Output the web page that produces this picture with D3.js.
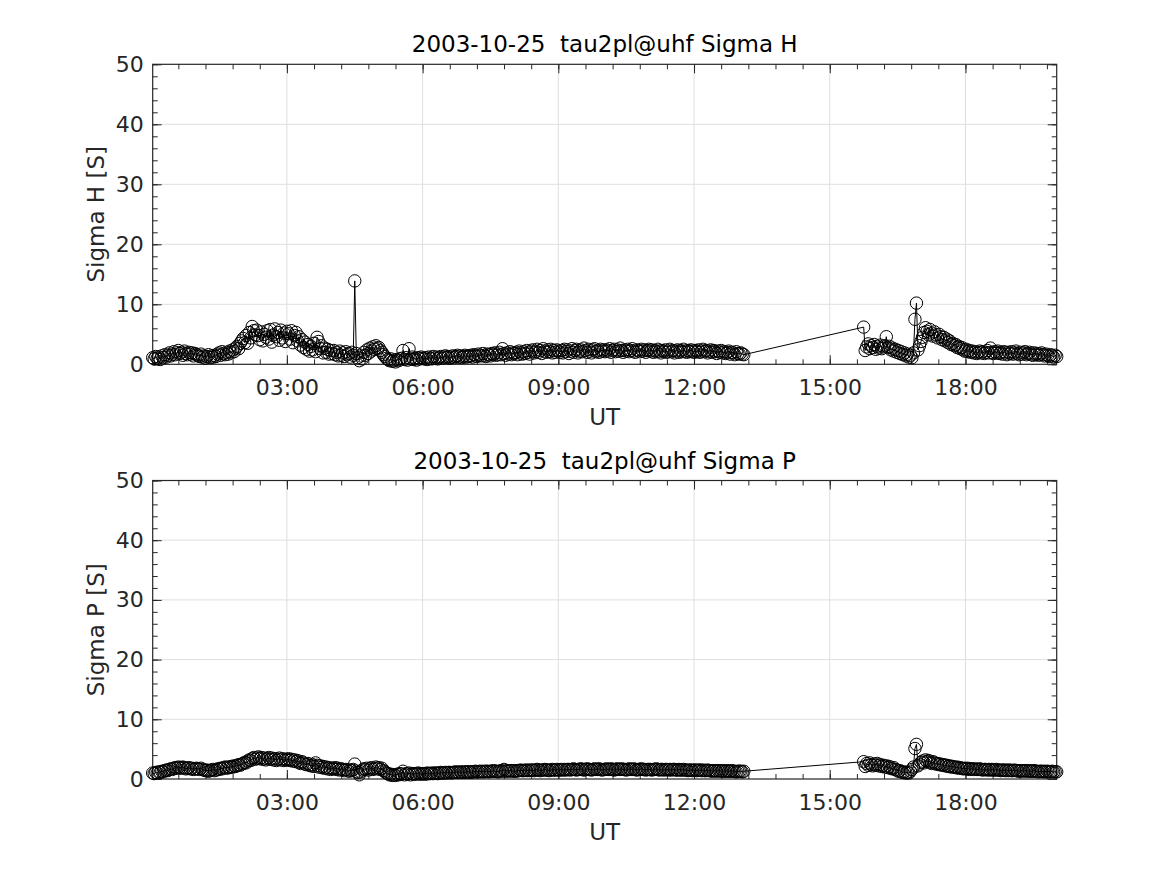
<!DOCTYPE html>
<html>
<head>
<meta charset="utf-8">
<script src="https://cdn.jsdelivr.net/npm/d3@7"></script>
<style>
  body { margin: 0; background: #fff; }
  svg text { font-family: "DejaVu Sans", sans-serif; white-space: pre; }
</style>
</head>
<body>
<div id="chart"></div>
<script>
// sample times: two runs with 2 minute steps
const day = "2003-10-25";
const stepMinutes = 2;
const runStarts = ["00:02", "15:45"];
const xLimits = ["00:02", "20:01"];

// Sigma H, first run (one row per hour: hh:02 .. hh+1:00)
const sigmaH1 = [
  1.1, 0.9, 1.3, 1.0, 1.2, 0.8, 1.4, 1.1, 1.6, 1.2, 1.5, 1.9, 1.4, 1.7, 2.1, 1.6, 1.9, 2.3, 1.8, 2.0, 1.5, 2.2, 1.8, 1.6, 2.0, 1.7, 1.9, 1.4, 1.8, 1.6,
  1.5, 1.3, 1.7, 1.2, 1.4, 1.0, 1.3, 1.6, 1.1, 1.4, 1.2, 1.5, 1.3, 1.7, 1.9, 1.5, 2.1, 1.8, 1.6, 2.0, 1.7, 2.2, 1.9, 2.4, 2.1, 2.7, 3.0, 2.6, 3.5, 3.9,
  4.3, 3.6, 4.8, 3.5, 5.3, 4.4, 6.3, 5.6, 4.9, 5.7, 4.8, 4.1, 5.4, 3.9, 5.0, 4.5, 5.6, 4.2, 5.8, 3.7, 4.9, 5.9, 4.6, 5.3, 4.0, 5.7, 4.4, 5.2, 3.8, 5.5,
  5.1, 4.2, 5.6, 3.6, 4.8, 5.3, 3.9, 4.6, 3.2, 4.1, 2.8, 3.7, 2.5, 3.3, 2.2, 3.0, 2.4, 3.5, 2.1, 4.5, 3.8, 2.6, 3.1, 1.9, 2.7, 2.0, 2.5, 1.7, 2.3, 1.8,
  2.3, 1.6, 2.0, 1.4, 2.2, 1.5, 1.9, 1.3, 2.1, 1.6, 1.8, 1.2, 2.0, 1.5, 13.9, 1.8, 1.1, 0.6, 1.4, 0.9, 2.0, 1.5, 2.4, 1.8, 2.7, 2.2, 2.9, 2.5, 3.1, 2.6,
  2.8, 2.3, 2.0, 1.6, 1.3, 1.0, 0.8, 0.6, 0.9, 0.5, 0.7, 0.4, 0.8, 0.6, 0.9, 1.0, 2.3, 0.8, 1.1, 0.7, 2.6, 0.9, 1.2, 0.8, 1.0, 0.7, 1.1, 0.9, 1.2, 1.0,
  0.9, 1.1, 0.8, 1.2, 1.0, 0.9, 1.3, 1.0, 1.2, 0.9, 1.1, 1.3, 1.0, 1.2, 1.4, 1.1, 1.3, 1.0, 1.2, 1.4, 1.1, 1.3, 1.5, 1.2, 1.4, 1.1, 1.3, 1.5, 1.2, 1.4,
  1.3, 1.5, 1.2, 1.6, 1.4, 1.3, 1.7, 1.5, 1.4, 1.8, 1.5, 1.3, 1.7, 1.6, 1.4, 1.8, 1.6, 1.9, 1.5, 1.7, 2.0, 1.6, 2.6, 1.8, 1.5, 1.9, 1.7, 2.1, 1.6, 1.9,
  1.8, 2.0, 1.6, 2.2, 1.9, 1.7, 2.1, 1.8, 2.3, 2.0, 1.7, 2.2, 2.4, 1.9, 2.1, 2.5, 2.0, 2.3, 1.8, 2.6, 2.2, 2.0, 2.4, 2.1, 2.5, 1.9, 2.3, 2.0, 2.4, 2.2,
  2.0, 2.3, 1.9, 2.5, 2.1, 2.4, 1.8, 2.2, 2.6, 2.0, 2.3, 2.5, 1.9, 2.2, 2.4, 2.1, 2.7, 2.3, 2.0, 2.5, 2.2, 1.9, 2.4, 2.6, 2.1, 2.3, 2.0, 2.5, 2.2, 2.4,
  2.1, 2.4, 2.2, 2.6, 2.0, 2.3, 2.5, 2.1, 2.4, 2.2, 2.7, 2.3, 2.0, 2.4, 2.2, 2.5, 2.1, 2.3, 2.6, 2.2, 2.0, 2.4, 2.3, 2.1, 2.5, 2.2, 2.4, 2.0, 2.3, 2.5,
  2.2, 2.4, 2.0, 2.3, 2.1, 2.5, 2.2, 1.9, 2.3, 2.1, 2.4, 2.0, 2.2, 2.5, 2.1, 2.3, 1.9, 2.2, 2.4, 2.0, 2.3, 2.1, 2.5, 2.2, 2.0, 2.3, 2.1, 2.4, 2.2, 2.0,
  2.3, 2.1, 2.4, 2.0, 2.2, 2.5, 2.1, 2.3, 1.9, 2.2, 2.4, 2.0, 2.3, 2.1, 1.8, 2.2, 2.0, 2.3, 1.9, 2.1, 1.8, 2.0, 2.2, 1.7, 2.0, 1.9, 1.6, 2.1, 1.8, 1.7,
  1.9, 1.7, 1.6,
];
// Sigma H, second run (rows: 15:45.., 16:45.., 17:45.., 18:45.., 19:45..)
const sigmaH2 = [
  6.2, 2.3, 2.9, 3.4, 2.6, 3.1, 2.8, 3.3, 2.5, 3.0, 2.7, 3.2, 2.6, 2.9, 3.1, 4.6, 2.8, 3.0, 2.4, 2.7, 2.2, 2.5, 2.0, 2.3, 1.8, 2.1, 1.6, 1.9, 1.4, 1.7,
  1.2, 1.5, 1.1, 1.9, 7.5, 10.2, 2.4, 3.1, 3.8, 4.5, 5.3, 6.1, 5.5, 4.9, 5.8, 5.2, 4.7, 5.4, 4.9, 4.4, 5.0, 4.6, 4.1, 4.5, 3.9, 4.2, 3.6, 3.9, 3.3, 3.5,
  3.1, 3.3, 2.8, 3.0, 2.6, 2.8, 2.4, 2.2, 2.5, 2.1, 2.3, 2.0, 2.2, 1.9, 2.1, 1.8, 2.0, 2.2, 1.9, 2.1, 1.8, 2.0, 2.3, 1.9, 2.7, 2.0, 1.8, 2.1, 1.9, 2.2,
  1.8, 2.0, 1.7, 2.1, 1.9, 1.6, 2.0, 1.8, 2.1, 1.7, 1.9, 2.2, 1.8, 1.6, 2.0, 1.7, 1.9, 2.1, 1.6, 1.8, 2.0, 1.7, 1.5, 1.9, 1.6, 1.8, 1.5, 1.7, 1.9, 1.6,
  1.4, 1.7, 1.5, 1.3, 1.6, 1.4, 1.2, 1.5, 1.3,
];

// Sigma P, same sample times
const sigmaP1 = [
  1.0, 0.9, 1.1, 1.0, 1.2, 1.1, 1.3, 1.2, 1.4, 1.5, 1.4, 1.6, 1.7, 1.6, 1.8, 1.9, 1.8, 2.0, 1.9, 1.8, 2.0, 1.9, 1.7, 1.8, 1.9, 1.7, 1.8, 1.6, 1.7, 1.8,
  1.7, 1.6, 1.8, 1.6, 1.5, 1.4, 1.5, 1.3, 1.4, 1.5, 1.6, 1.4, 1.5, 1.7, 1.6, 1.8, 1.7, 1.9, 2.0, 1.8, 2.0, 1.9, 2.1, 2.0, 2.2, 2.1, 2.3, 2.4, 2.3, 2.5,
  2.6, 2.8, 2.7, 3.0, 3.2, 3.1, 3.4, 3.6, 3.3, 3.5, 3.7, 3.4, 3.6, 3.3, 3.5, 3.2, 3.4, 3.6, 3.3, 3.5, 3.2, 3.4, 3.1, 3.3, 3.5, 3.2, 3.4, 3.1, 3.3, 3.2,
  3.4, 3.1, 3.3, 3.0, 3.2, 2.9, 3.1, 2.8, 2.6, 2.9, 2.7, 2.5, 2.4, 2.6, 2.3, 2.2, 2.4, 2.1, 2.7, 2.3, 2.0, 2.2, 1.9, 2.1, 1.8, 2.0, 1.7, 1.9, 1.6, 1.8,
  1.7, 1.9, 1.6, 1.8, 1.5, 1.7, 1.6, 1.4, 1.6, 1.5, 1.3, 1.5, 1.4, 1.6, 2.5, 1.3, 1.1, 0.7, 1.2, 1.5, 1.7, 1.6, 1.8, 1.5, 1.7, 1.9, 1.6, 1.8, 2.0, 1.7,
  1.9, 1.6, 1.8, 1.4, 1.2, 1.0, 0.9, 0.7, 0.8, 0.6, 0.7, 0.6, 0.8, 0.7, 0.9, 0.8, 1.3, 0.7, 0.9, 0.8, 1.0, 0.7, 0.9, 0.8, 0.9, 0.8, 1.0, 0.9, 0.8, 0.9,
  0.9, 0.8, 1.0, 0.9, 0.9, 1.0, 0.9, 1.0, 1.0, 0.9, 1.0, 1.1, 1.0, 1.0, 1.1, 1.0, 1.1, 1.1, 1.0, 1.1, 1.1, 1.2, 1.1, 1.1, 1.2, 1.1, 1.2, 1.1, 1.2, 1.2,
  1.2, 1.1, 1.2, 1.2, 1.3, 1.2, 1.2, 1.3, 1.2, 1.3, 1.2, 1.3, 1.3, 1.2, 1.3, 1.3, 1.4, 1.3, 1.3, 1.2, 1.3, 1.4, 1.3, 1.6, 1.3, 1.4, 1.3, 1.4, 1.4, 1.3,
  1.4, 1.3, 1.4, 1.4, 1.5, 1.4, 1.4, 1.5, 1.4, 1.5, 1.4, 1.5, 1.5, 1.4, 1.5, 1.6, 1.5, 1.4, 1.5, 1.5, 1.6, 1.5, 1.5, 1.4, 1.5, 1.6, 1.5, 1.5, 1.6, 1.5,
  1.5, 1.6, 1.5, 1.6, 1.5, 1.6, 1.6, 1.5, 1.6, 1.7, 1.6, 1.5, 1.6, 1.6, 1.7, 1.6, 1.5, 1.6, 1.7, 1.6, 1.6, 1.5, 1.6, 1.7, 1.6, 1.6, 1.7, 1.6, 1.5, 1.6,
  1.6, 1.7, 1.6, 1.6, 1.7, 1.6, 1.5, 1.6, 1.7, 1.6, 1.6, 1.7, 1.6, 1.6, 1.5, 1.6, 1.7, 1.6, 1.6, 1.7, 1.6, 1.5, 1.6, 1.6, 1.7, 1.6, 1.6, 1.5, 1.6, 1.6,
  1.6, 1.5, 1.6, 1.6, 1.7, 1.6, 1.5, 1.6, 1.6, 1.5, 1.6, 1.6, 1.5, 1.6, 1.5, 1.6, 1.6, 1.5, 1.5, 1.6, 1.5, 1.5, 1.6, 1.5, 1.5, 1.4, 1.5, 1.5, 1.4, 1.5,
  1.5, 1.4, 1.5, 1.5, 1.4, 1.5, 1.4, 1.4, 1.5, 1.4, 1.4, 1.3, 1.4, 1.4, 1.3, 1.4, 1.4, 1.3, 1.4, 1.3, 1.3, 1.4, 1.3, 1.3, 1.4, 1.3, 1.3, 1.2, 1.3, 1.3,
  1.3, 1.2, 1.3,
];
const sigmaP2 = [
  2.9, 2.1, 2.6, 2.3, 2.7, 2.4, 2.2, 2.5, 2.3, 2.6, 2.2, 2.4, 2.1, 2.3, 2.0, 2.2, 1.9, 2.1, 1.8, 1.7, 1.9, 1.6, 1.5, 1.3, 1.4, 1.2, 1.1, 1.2, 1.0, 1.1,
  1.0, 1.3, 1.6, 2.0, 5.1, 5.8, 2.2, 2.5, 2.8, 3.0, 2.7, 3.2, 2.9, 3.1, 2.8, 2.6, 2.9, 2.7, 2.5, 2.6, 2.4, 2.5, 2.3, 2.4, 2.2, 2.3, 2.1, 2.2, 2.0, 2.1,
  2.0, 1.9, 2.0, 1.8, 1.9, 1.8, 1.7, 1.8, 1.7, 1.8, 1.6, 1.7, 1.7, 1.6, 1.7, 1.6, 1.6, 1.7, 1.6, 1.5, 1.6, 1.6, 1.5, 1.6, 1.5, 1.6, 1.5, 1.5, 1.6, 1.5,
  1.5, 1.4, 1.5, 1.5, 1.4, 1.5, 1.4, 1.5, 1.4, 1.4, 1.5, 1.4, 1.4, 1.3, 1.4, 1.4, 1.3, 1.4, 1.4, 1.3, 1.4, 1.3, 1.3, 1.4, 1.3, 1.3, 1.2, 1.3, 1.3, 1.2,
  1.3, 1.2, 1.3, 1.2, 1.2, 1.3, 1.2, 1.2, 1.2,
];

const yTicks = [0, 10, 20, 30, 40, 50];
const xTickHours = [3, 6, 9, 12, 15, 18];

const toDate = (hhmm) => new Date(Date.parse(`${day}T${hhmm}:00Z`));

// build the time stamps of a run from its start time
function runTimes(start, values) {
  const t0 = toDate(start).getTime();
  return values.map((v, i) => new Date(t0 + i * stepMinutes * 60000));
}

function makeSeries(run1, run2) {
  const t1 = runTimes(runStarts[0], run1);
  const t2 = runTimes(runStarts[1], run2);
  return run1
    .map((v, i) => ({ t: t1[i], v }))
    .concat(run2.map((v, i) => ({ t: t2[i], v })));
}

const width = 1167;
const height = 875;
const svg = d3
  .select("#chart")
  .append("svg")
  .attr("width", width)
  .attr("height", height);

const left = 152.7;
const right = 1056.7;
const axisColor = "#262626";
const tickFont = "22px";
const labelFont = "23px";

function drawPanel(series, top, bottom, title, yLabel) {
  const xScale = d3
    .scaleUtc()
    .domain(xLimits.map(toDate))
    .range([left, right]);
  const yScale = d3.scaleLinear().domain([0, 50]).range([bottom, top]);

  const g = svg.append("g");
  const [d0, d1] = xScale.domain();

  const midnight = toDate("00:00").getTime();
  const majorTimes = xTickHours.map((h) => new Date(midnight + h * 3600000));
  const minorTimes = d3
    .range(0, 21 * 60, 36)
    .map((m) => new Date(midnight + m * 60000))
    .filter((t) => t >= d0 && t <= d1);
  const minorY = d3.range(0, 51, 2);

  // grid
  g.append("g")
    .selectAll("line")
    .data(majorTimes)
    .join("line")
    .attr("x1", (d) => xScale(d))
    .attr("x2", (d) => xScale(d))
    .attr("y1", top)
    .attr("y2", bottom)
    .attr("stroke", "#dfdfdf")
    .attr("stroke-width", 1);
  g.append("g")
    .selectAll("line")
    .data(yTicks.slice(1, -1))
    .join("line")
    .attr("x1", left)
    .attr("x2", right)
    .attr("y1", (d) => yScale(d))
    .attr("y2", (d) => yScale(d))
    .attr("stroke", "#dfdfdf")
    .attr("stroke-width", 1);

  // minor ticks (inward, all four sides)
  const minorAxes = [
    [d3.axisBottom(xScale).tickValues(minorTimes), bottom, "x"],
    [d3.axisTop(xScale).tickValues(minorTimes), top, "x"],
    [d3.axisLeft(yScale).tickValues(minorY), left, "y"],
    [d3.axisRight(yScale).tickValues(minorY), right, "y"],
  ];
  minorAxes.forEach(([ax, pos, dir]) => {
    const a = g
      .append("g")
      .attr(
        "transform",
        dir === "x" ? `translate(0,${pos})` : `translate(${pos},0)`,
      )
      .call(ax.tickSizeInner(-5).tickSizeOuter(0).tickFormat(""));
    a.select(".domain").remove();
    a.selectAll("line").attr("stroke", axisColor);
  });

  // major ticks
  const xAxis = g
    .append("g")
    .attr("transform", `translate(0,${bottom})`)
    .call(
      d3
        .axisBottom(xScale)
        .tickValues(majorTimes)
        .tickFormat(d3.utcFormat("%H:%M"))
        .tickSizeInner(-9)
        .tickSizeOuter(0)
        .tickPadding(15.5),
    );
  const xTop = g
    .append("g")
    .attr("transform", `translate(0,${top})`)
    .call(
      d3.axisTop(xScale).tickValues(majorTimes).tickFormat("").tickSizeInner(-9).tickSizeOuter(0),
    );
  const yAxis = g
    .append("g")
    .attr("transform", `translate(${left},0)`)
    .call(
      d3.axisLeft(yScale).tickValues(yTicks).tickSizeInner(-9).tickSizeOuter(0).tickPadding(9),
    );
  const yRight = g
    .append("g")
    .attr("transform", `translate(${right},0)`)
    .call(
      d3.axisRight(yScale).tickValues(yTicks).tickFormat("").tickSizeInner(-9).tickSizeOuter(0),
    );
  [xAxis, xTop, yAxis, yRight].forEach((a) => {
    a.select(".domain").remove();
    a.selectAll("line").attr("stroke", axisColor);
    a.selectAll("text")
      .attr("fill", axisColor)
      .style("font-size", tickFont)
      .style("font-family", "DejaVu Sans");
  });

  // box
  g.append("rect")
    .attr("x", left)
    .attr("y", top)
    .attr("width", right - left)
    .attr("height", bottom - top)
    .attr("fill", "none")
    .attr("stroke", axisColor)
    .attr("stroke-width", 1.2);

  // data
  const line = d3
    .line()
    .x((d) => xScale(d.t))
    .y((d) => yScale(d.v));
  g.append("path")
    .datum(series)
    .attr("d", line)
    .attr("fill", "none")
    .attr("stroke", "#000")
    .attr("stroke-width", 1);
  g.append("g")
    .selectAll("circle")
    .data(series)
    .join("circle")
    .attr("cx", (d) => xScale(d.t))
    .attr("cy", (d) => yScale(d.v))
    .attr("r", 6.2)
    .attr("fill", "none")
    .attr("stroke", "#000")
    .attr("stroke-width", 1);

  // labels
  g.append("text")
    .attr("x", (left + right) / 2)
    .attr("y", top - 12)
    .attr("text-anchor", "middle")
    .attr("fill", "#000")
    .style("font-size", labelFont)
    .text(title);
  g.append("text")
    .attr("x", (left + right) / 2)
    .attr("y", bottom + 61)
    .attr("text-anchor", "middle")
    .attr("fill", axisColor)
    .style("font-size", labelFont)
    .text("UT");
  g.append("text")
    .attr("transform", `translate(104,${(top + bottom) / 2}) rotate(-90)`)
    .attr("text-anchor", "middle")
    .attr("fill", axisColor)
    .style("font-size", labelFont)
    .text(yLabel);
}

drawPanel(
  makeSeries(sigmaH1, sigmaH2),
  64.3,
  364.3,
  "2003-10-25  tau2pl@uhf Sigma H",
  "Sigma H [S]",
);
drawPanel(
  makeSeries(sigmaP1, sigmaP2),
  480.5,
  779,
  "2003-10-25  tau2pl@uhf Sigma P",
  "Sigma P [S]",
);
</script>
</body>
</html>
